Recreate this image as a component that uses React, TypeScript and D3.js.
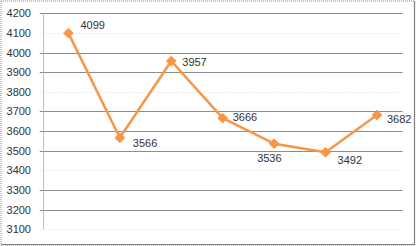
import React from "react";
import * as d3 from "d3";

const categories = ["1", "2", "3", "4", "5", "6", "7"];
const values = [4099, 3566, 3957, 3666, 3536, 3492, 3682];
const yTicks = [3100, 3200, 3300, 3400, 3500, 3600, 3700, 3800, 3900, 4000, 4100, 4200];
const faintTicks = [4100, 3800, 3400, 3100];
// label offsets relative to marker (dx = left edge of text, dy = text center)
const labelDx = [12, 13, 11, 10, -17, 12, 10];
const labelDy = [-8, 5, 1, -1, 14, 8, 4];

const W = 416;
const H = 246;
const left = 42.7;
const right = 402.7;
const top = 13.3;
const bottom = 229.3;
const orange = "#f79646";

export default function App() {
  const x = d3.scalePoint<string>().domain(categories).range([left, right]).padding(0.5);
  const y = d3.scaleLinear().domain([3100, 4200]).range([bottom, top]);
  const line = d3
    .line<number>()
    .x((_, i) => x(categories[i]) as number)
    .y((d) => y(d));
  const diamond = d3.symbol().type(d3.symbolDiamond2).size(60)();
  const font = "'Liberation Sans', Arial, sans-serif";

  return (
    <svg width={W} height={H} style={{ position: "absolute", left: 0, top: 0 }}>
      <rect x={0} y={0} width={W} height={H} fill="#fff" />
      <rect x={1} y={1} width={413.5} height={244} fill="#fff" stroke="#8a8a8a" strokeWidth={1} strokeDasharray="1 1" />
      <line x1={414.5} x2={414.5} y1={1} y2={245} stroke="#7f7f7f" strokeWidth={1.2} />
      <line x1={1} x2={414.5} y1={244.5} y2={244.5} stroke="#7f7f7f" strokeWidth={1.2} />
      {yTicks.map((t) => {
        const faint = faintTicks.includes(t);
        const yy = Math.round(y(t)) + 0.5;
        return (
          <g key={t}>
            <line
              x1={left - 3}
              x2={right}
              y1={yy}
              y2={yy}
              stroke={faint ? "#dcdcdc" : "#8c8c8c"}
              strokeWidth={1}
              strokeDasharray={faint ? "1 2" : undefined}
            />
            <text x={31} y={yy} dy="0.35em" textAnchor="end" fontFamily={font} fontSize={11} fill="#333">
              {t}
            </text>
          </g>
        );
      })}
      <line x1={Math.round(left) + 0.5} x2={Math.round(left) + 0.5} y1={top} y2={bottom} stroke="#bdbdbd" strokeWidth={1} />
      <path d={line(values) || ""} fill="none" stroke={orange} strokeWidth={2.5} strokeLinejoin="round" />
      {values.map((v, i) => (
        <path
          key={i}
          d={diamond || ""}
          transform={`translate(${x(categories[i])},${y(v)})`}
          fill={orange}
          stroke={orange}
          strokeWidth={1}
        />
      ))}
      {values.map((v, i) => (
        <text
          key={"l" + i}
          x={(x(categories[i]) as number) + labelDx[i]}
          y={y(v) + labelDy[i]}
          dy="0.35em"
          fontFamily={font}
          fontSize={11}
          fill="#333"
        >
          {v}
        </text>
      ))}
    </svg>
  );
}
